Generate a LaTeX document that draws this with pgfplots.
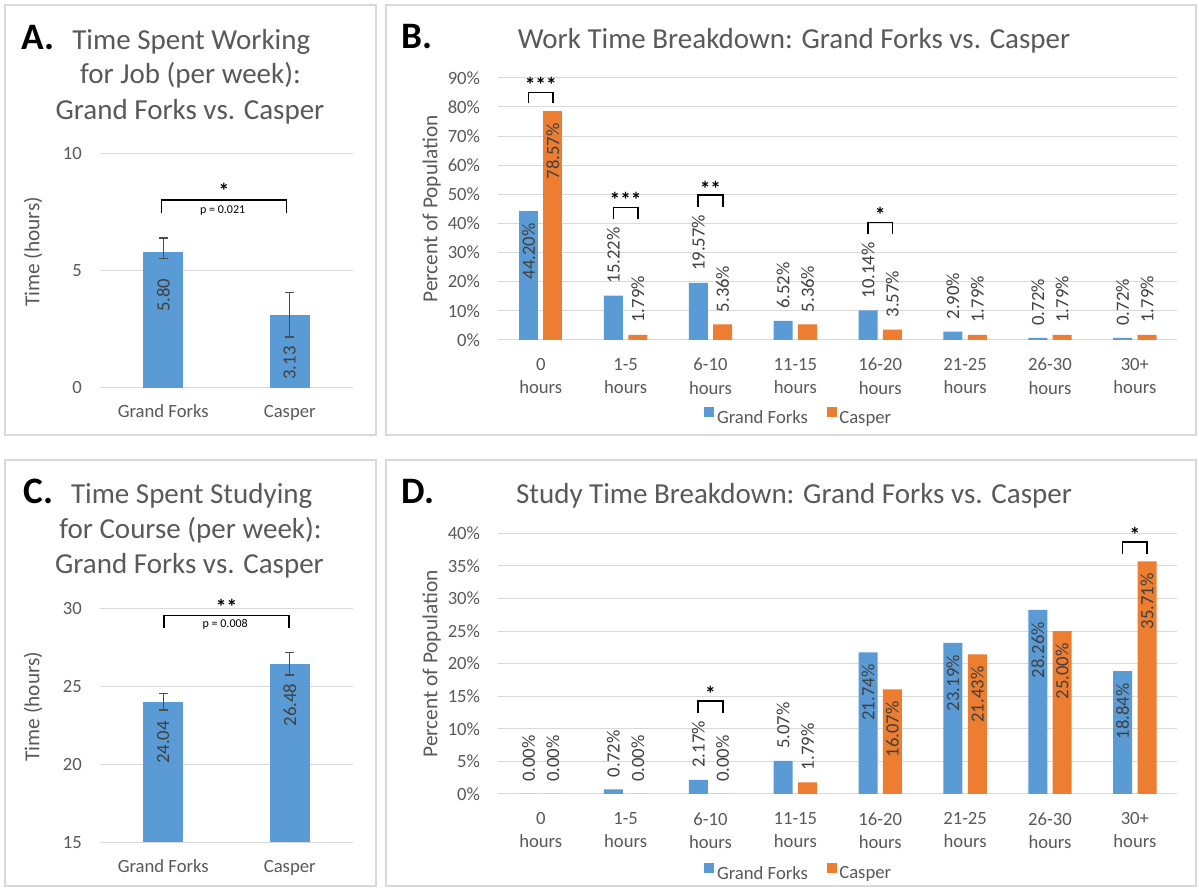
\documentclass[border=0pt]{standalone}
\usepackage{fontspec}
\setmainfont{Carlito}
\usepackage{pgfplots}
\pgfplotsset{compat=1.18}
\definecolor{gfblue}{HTML}{5B9BD5}
\definecolor{csorange}{HTML}{ED7D31}
\definecolor{txtgray}{HTML}{595959}
\definecolor{gridgray}{HTML}{D9D9D9}
\definecolor{lblgray}{HTML}{404040}
\definecolor{errgray}{HTML}{4D4D4D}

\tikzset{
  vlab/.style={rotate=90, inner sep=0pt, font=\fontsize{14}{17}\selectfont, text=lblgray},
  star/.style={anchor=base, inner sep=0pt, font=\bfseries\fontsize{16}{19}\selectfont},
}

\pgfplotsset{
  base/.style={
    scale only axis, enlargelimits=false,
    axis line style={draw=none},
    ymajorgrids, major grid style={gridgray, line width=0.75pt},
    major tick length=0pt, tick style={draw=none},
    /pgf/number format/assume math mode=true,
    tick label style={font=\fontsize{14}{17.5}\selectfont, text=txtgray},
    yticklabel style={anchor=east, inner sep=0pt, xshift=-13.5pt},
  },
  smallbar/.style={
    base, xmin=-0.5, xmax=1.5, xtick={0,1},
    xticklabels={Grand Forks, Casper},
    xticklabel style={anchor=base, inner sep=0pt, yshift=-22.5pt},
    ybar, bar width=30pt,
  },
  errs/.style={
    error bars/.cd, y dir=both, y explicit,
    error bar style={line width=1.1pt, draw=errgray},
    error mark options={rotate=90, line width=1.1pt, draw=errgray, mark size=3.4pt},
  },
  bd/.style={
    base, xmin=-0.5, xmax=7.5, ymin=0, width=509.25pt,
    xtick={0,...,7},
    xticklabels={{0\\hours},{1-5\\hours},{6-10\\hours},{11-15\\hours},{16-20\\hours},{21-25\\hours},{26-30\\hours},{30+\\hours}},
    xticklabel style={align=center, anchor=north, inner sep=0pt, yshift=-13.6pt},
    yticklabel={\pgfmathprintnumber{\tick}\%},
    ybar, bar width=14.25pt, clip=false,
    nodes near coords={\pgfmathprintnumber[fixed,fixed zerofill,precision=2]{\pgfplotspointmeta}\%},
    every node near coord/.append style={rotate=90, inner xsep=9pt, inner ysep=0pt, font=\fontsize{14}{17}\selectfont, text=lblgray},
  },
  inl/.style={every node near coord/.append style={anchor=east}},
  outl/.style={every node near coord/.append style={anchor=west}},
  gfbar/.style={fill=gfblue, draw=none, bar shift=-9.15pt},
  csbar/.style={fill=csorange, draw=none, bar shift=9.15pt},
  pleg/.style={
    legend image code/.code={\fill[##1] (0pt,0.7pt) rectangle (7.5pt,8.2pt);},
    legend style={at={(0.443,#1)}, anchor=center, draw=none, fill=none, legend columns=-1,
      font=\fontsize{14}{17}\selectfont, text=txtgray,
      /tikz/every even column/.append style={column sep=12pt}},
  },
}

\begin{document}
\begin{tikzpicture}[x=0.75pt,y=0.75pt]
\useasboundingbox (0,0) rectangle (1199,891);
\fill[white] (0,0) rectangle (1199,891);
% panel borders
\draw[gridgray, line width=1.1pt] (5,886) rectangle (376,456);
\draw[gridgray, line width=1.1pt] (386,886) rectangle (1196,456);
\draw[gridgray, line width=1.1pt] (5,431) rectangle (376,5);
\draw[gridgray, line width=1.1pt] (386,431) rectangle (1196,5);

% ---------- Panel A ----------
\node[anchor=base west, inner sep=0pt, font=\bfseries\fontsize{28}{32}\selectfont] at (21.7,841.7) {A.};
\node[anchor=base, inner sep=0pt, font=\fontsize{21.75}{26}\selectfont, text=txtgray] at (191.3,841.7) {Time Spent Working};
\node[anchor=base, inner sep=0pt, font=\fontsize{21.75}{26}\selectfont, text=txtgray] at (190.5,807.7) {for Job (per week):};
\node[anchor=base, inner sep=0pt, font=\fontsize{21.75}{26}\selectfont, text=txtgray] at (190,771.7) {Grand Forks vs. Casper};
\node[rotate=90, font=\fontsize{16}{19}\selectfont, text=txtgray] at (33,639) {Time (hours)};
\begin{axis}[smallbar, at={(75pt,377.25pt)}, anchor=south west, width=189.75pt, height=175.5pt,
  ymin=0, ymax=10, ytick={0,5,10}, clip=false]
\addplot[fill=gfblue, draw=none, bar shift=0pt, errs]
  coordinates {(0,5.80) += (0,0.60) -= (0,0.26)};
\addplot[fill=gfblue, draw=none, bar shift=0pt, errs]
  coordinates {(1,3.13) +- (0,0.95)};
\node[vlab] at (axis cs:0,3.97) {5.80};
\node[vlab] at (axis cs:1,1.07) {3.13};
\draw[line width=1.1pt] (axis cs:-0.012,7.48) -- (axis cs:-0.012,8.03) -- (axis cs:0.976,8.03) -- (axis cs:0.976,7.48);
\node[star] at (axis cs:0.48,8.10) {*};
\node[inner sep=0pt, font=\fontsize{9}{11}\selectfont] at (axis cs:0.47,7.58) {p = 0.021};
\end{axis}

% ---------- Panel C ----------
\node[anchor=base west, inner sep=0pt, font=\bfseries\fontsize{28}{32}\selectfont] at (23,387.7) {C.};
\node[anchor=base, inner sep=0pt, font=\fontsize{21.75}{26}\selectfont, text=txtgray] at (191.7,387.7) {Time Spent Studying};
\node[anchor=base, inner sep=0pt, font=\fontsize{21.75}{26}\selectfont, text=txtgray] at (190.5,352.7) {for Course (per week):};
\node[anchor=base, inner sep=0pt, font=\fontsize{21.75}{26}\selectfont, text=txtgray] at (189.5,317) {Grand Forks vs. Casper};
\node[rotate=90, font=\fontsize{16}{19}\selectfont, text=txtgray] at (33,184.3) {Time (hours)};
\begin{axis}[smallbar, at={(75pt,36.525pt)}, anchor=south west, width=189.75pt, height=175pt,
  ymin=15, ymax=30, ytick={15,20,25,30}]
\addplot[fill=gfblue, draw=none, bar shift=0pt, errs]
  coordinates {(0,24.04) +- (0,0.54)};
\addplot[fill=gfblue, draw=none, bar shift=0pt, errs]
  coordinates {(1,26.48) +- (0,0.72)};
\node[vlab] at (axis cs:0,21.42) {24.04};
\node[vlab] at (axis cs:1,23.83) {26.48};
\coordinate (cL) at (axis cs:0.006,28.78);
\coordinate (cLt) at (axis cs:0.006,29.57);
\coordinate (cR) at (axis cs:0.994,28.78);
\coordinate (cRt) at (axis cs:0.994,29.57);
\coordinate (cS) at (axis cs:0.5,29.64);
\coordinate (cP) at (axis cs:0.49,29.04);
\end{axis}
\draw[line width=1.1pt] (cL) -- (cLt) -- (cRt) -- (cR);
\node[star] at (cS) {**};
\node[inner sep=0pt, font=\fontsize{9}{11}\selectfont] at (cP) {p = 0.008};

% ---------- Panel B ----------
\node[anchor=base west, inner sep=0pt, font=\bfseries\fontsize{28}{32}\selectfont] at (401,842) {B.};
\node[anchor=base, inner sep=0pt, font=\fontsize{21.75}{26}\selectfont, text=txtgray] at (794,842) {Work Time Breakdown: Grand Forks vs. Casper};
\node[rotate=90, font=\fontsize{16}{19}\selectfont, text=txtgray] at (431.7,682) {Percent of Population};
\begin{axis}[bd, at={(373.725pt,413.25pt)}, anchor=south west, height=196.7pt,
  ymax=90, ytick={0,10,...,90}, pleg=-0.297]
\addplot[gfbar, inl] coordinates {(0,44.20)};
\addplot[csbar, inl] coordinates {(0,78.57)};
\addplot[gfbar, outl, forget plot] coordinates {(1,15.22) (2,19.57) (3,6.52) (4,10.14) (5,2.90) (6,0.72) (7,0.72)};
\addplot[csbar, outl, forget plot] coordinates {(1,1.79) (2,5.36) (3,5.36) (4,3.57) (5,1.79) (6,1.79) (7,1.79)};
\legend{Grand Forks, Casper}
\draw[line width=1.1pt] (axis cs:-0.145,81.2) -- (axis cs:-0.145,85.0) -- (axis cs:0.145,85.0) -- (axis cs:0.145,81.2);
\node[star] at (axis cs:0,84.9) {***};
\draw[line width=1.1pt] (axis cs:0.855,41.4) -- (axis cs:0.855,45.5) -- (axis cs:1.145,45.5) -- (axis cs:1.145,41.4);
\node[star] at (axis cs:1,45.5) {***};
\draw[line width=1.1pt] (axis cs:1.855,45.7) -- (axis cs:1.855,49.8) -- (axis cs:2.145,49.8) -- (axis cs:2.145,45.7);
\node[star] at (axis cs:2,49.4) {**};
\draw[line width=1.1pt] (axis cs:3.855,36.4) -- (axis cs:3.855,40.4) -- (axis cs:4.145,40.4) -- (axis cs:4.145,36.4);
\node[star] at (axis cs:4,40.2) {*};
\end{axis}

% ---------- Panel D ----------
\node[anchor=base west, inner sep=0pt, font=\bfseries\fontsize{28}{32}\selectfont] at (401,387.7) {D.};
\node[anchor=base, inner sep=0pt, font=\fontsize{21.75}{26}\selectfont, text=txtgray] at (794,387.7) {Study Time Breakdown: Grand Forks vs. Casper};
\node[rotate=90, font=\fontsize{16}{19}\selectfont, text=txtgray] at (431.7,227) {Percent of Population};
\begin{axis}[bd, at={(373.725pt,72.75pt)}, anchor=south west, height=195.5pt,
  ymax=40, ytick={0,5,...,40}, pleg=-0.304]
\addplot[gfbar, outl] coordinates {(0,0.00) (1,0.72) (2,2.17) (3,5.07)};
\addplot[csbar, outl] coordinates {(0,0.00) (1,0.00) (2,0.00) (3,1.79)};
\addplot[gfbar, inl, forget plot] coordinates {(4,21.74) (5,23.19) (6,28.26) (7,18.84)};
\addplot[csbar, inl, forget plot] coordinates {(4,16.07) (5,21.43) (6,25.00) (7,35.71)};
\legend{Grand Forks, Casper}
\draw[line width=1.1pt] (axis cs:1.855,12.47) -- (axis cs:1.855,14.27) -- (axis cs:2.145,14.27) -- (axis cs:2.145,12.47);
\node[star] at (axis cs:2,14.15) {*};
\draw[line width=1.1pt] (axis cs:6.855,36.9) -- (axis cs:6.855,38.7) -- (axis cs:7.145,38.7) -- (axis cs:7.145,36.9);
\node[star] at (axis cs:7,38.55) {*};
\end{axis}
\end{tikzpicture}
\end{document}
